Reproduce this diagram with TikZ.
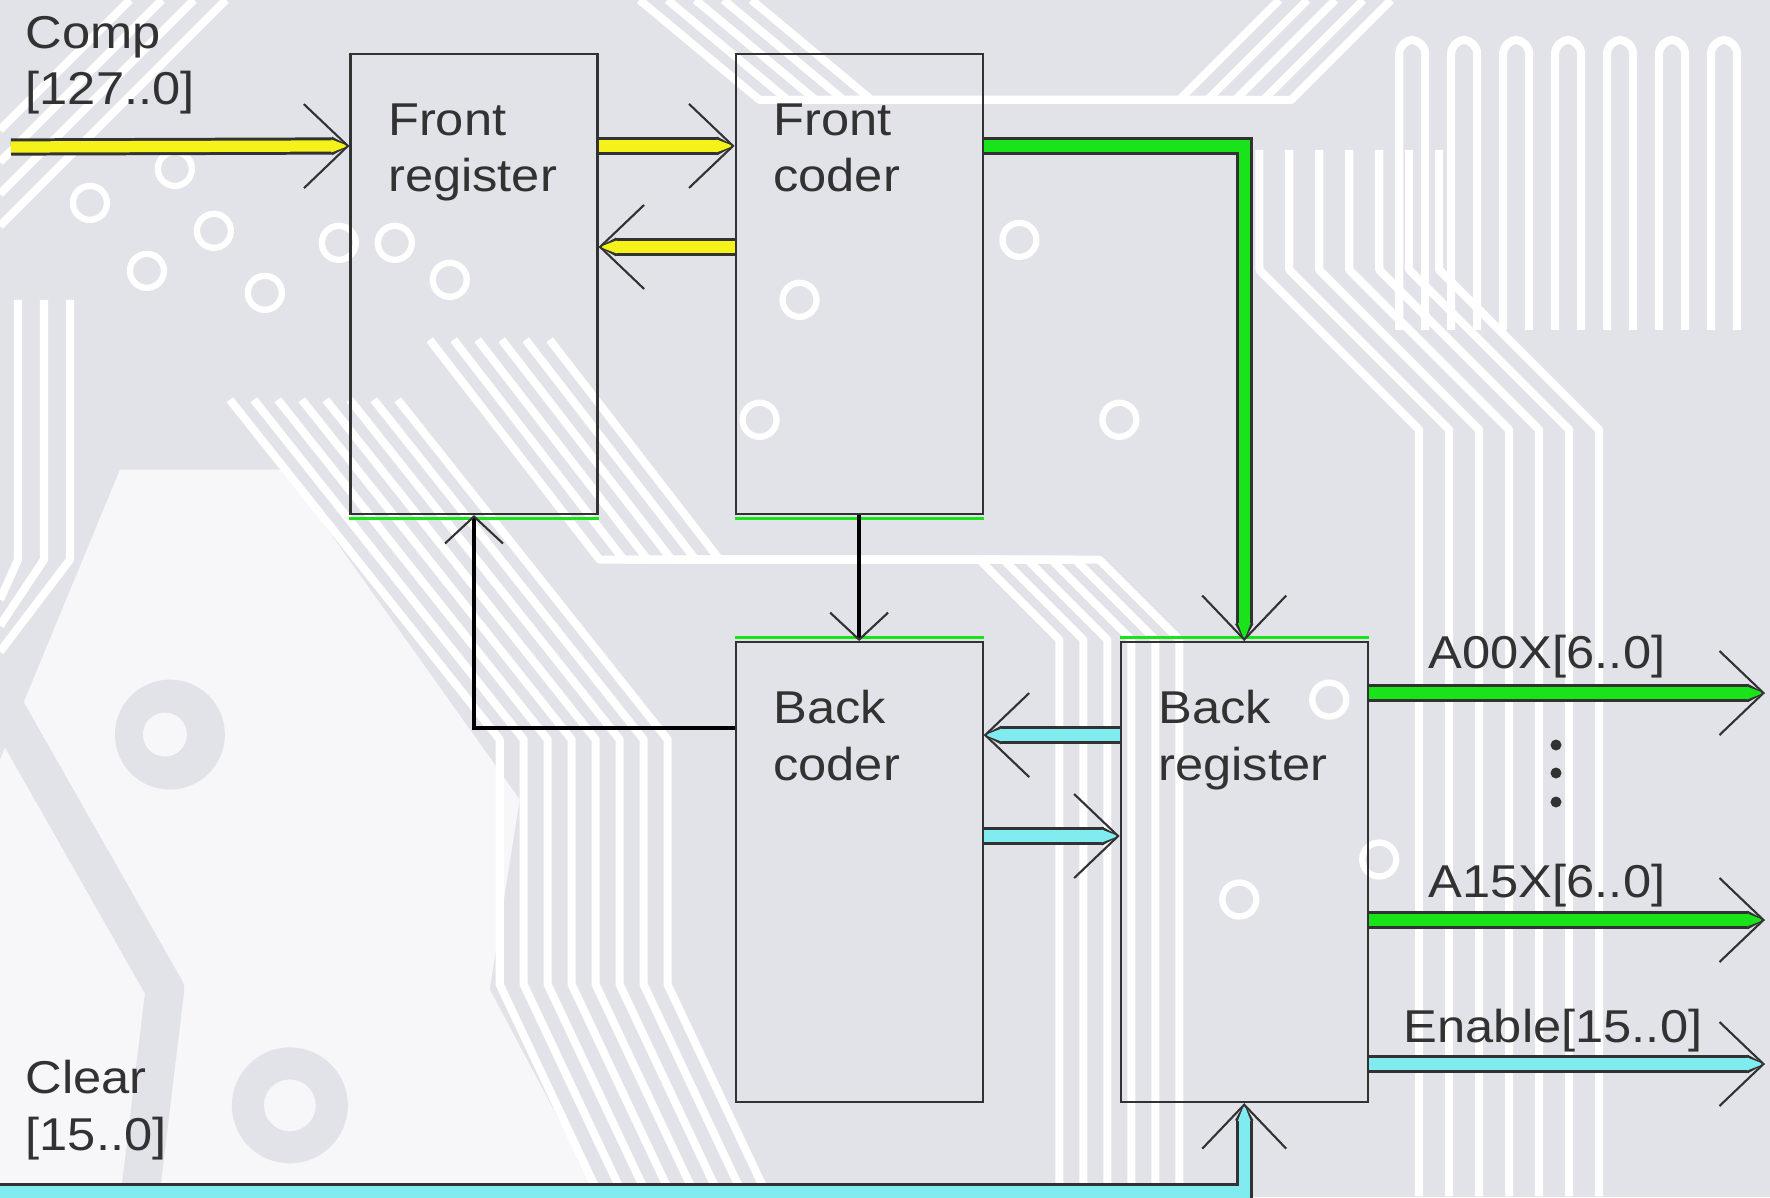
\documentclass[tikz,border=0pt]{standalone}
\usepackage{fontspec}
\setmainfont{Liberation Sans}[FakeStretch=1.1]
\usetikzlibrary{arrows.meta, positioning, calc}

\definecolor{busyellow}{RGB}{245,242,25}
\definecolor{busgreen}{RGB}{25,228,25}
\definecolor{buscyan}{RGB}{128,236,240}
\definecolor{board}{RGB}{226,226,233}
\definecolor{boardlight}{RGB}{247,247,249}
\definecolor{ink}{RGB}{50,50,50}

\tikzset{
  block/.style={
    rectangle, draw=ink, line width=0.6pt,
    minimum width=2.47cm, minimum height=4.6cm, inner sep=0pt
  },
  sigtext/.style={
    inner sep=0pt, align=left, text=ink,
    font=\fontsize{13.1}{16.2}\selectfont
  },
  blocktext/.style={sigtext, anchor=base west},
  bus/.style={
    draw=#1, line width=3.2pt,
    -{Triangle[length=0pt 1.6, width=0pt 1]},
    preaction={draw=ink, line width=4.9pt,
      arrows=-{Triangle[length=0pt 1, width=0pt 1]}},
    postaction={draw=#1, line width=0.3pt,
      arrows=-{Straight Barb[length=4.4mm, width=8.4mm, line width=0.6pt, color=ink]}}
  },
  wire/.style={
    draw=black, line width=1.1pt,
    -{Straight Barb[length=2.7mm, width=5.8mm, line width=0.6pt, color=ink]}
  },
  edgetint/.style={draw=#1, line width=1pt},
  trace/.style={draw=white, line width=2.3pt, line join=round},
  pad/.style={draw=white, line width=1.8pt}
}

\begin{document}
\begin{tikzpicture}
\useasboundingbox (0,0) rectangle (17.70,11.97);

% board background
\fill[board] (0,0) rectangle (17.70,11.97);
\begin{scope}[shift={(0,11.97)}, x=0.01cm, y=-0.01cm]
  % pale field lower left
  \fill[boardlight] (120,470) -- (285,470) -- (520,800) -- (490,990)
    -- (600,1197) -- (0,1197) -- (0,760) -- cycle;
  \draw[board, line width=11pt, line join=round] (0,700) -- (165,990) -- (140,1197);
  \fill[board] (170,735) circle (55);
  \fill[boardlight] (165,735) circle (22);
  \fill[board, even odd rule] (290,1106) circle (58) (290,1106) circle (26);
  % traces
  \foreach \i in {0,...,3}
    \draw[trace] (0,130+32*\i) -- (130+32*\i,0);
  \foreach \i in {0,...,2}
    \draw[trace] (18+26*\i,300) -- (18+26*\i,560) -- (0,600+26*\i);
  \foreach \i in {0,...,7}
    \draw[trace] (230+24*\i,400) -- (500+24*\i,740) -- (500+24*\i,985) -- (600+24*\i,1197);
  \foreach \i in {0,...,5}
    \draw[trace] (430+24*\i,340) -- (600+24*\i,560) -- (980+24*\i,560)
      -- (1060+24*\i,640) -- (1060+24*\i,1197);
  \foreach \i in {0,...,4}
    \draw[trace] (640+28*\i,0) -- (760+28*\i,100) -- (1180+28*\i,100) -- (1280+28*\i,0);
  \foreach \i in {0,...,6}
    \draw[trace] (1420+30*\i,1197) -- (1420+30*\i,430) -- (1260+30*\i,270) -- (1260+30*\i,150);
  \foreach \k in {0,...,6}
    \draw[trace, rounded corners=1.4mm] (1400+52*\k,330) -- (1400+52*\k,40)
      -- (1426+52*\k,40) -- (1426+52*\k,330);
  \foreach \x/\y in {90/203, 175/169, 214/231, 147/271, 265/293, 339/243, 395/243,
      450/280, 800/300, 760/420, 1020/240, 1120/420, 1240/900, 1330/700, 1380/860}
    \draw[pad] (\x,\y) circle (17);
\end{scope}

% blocks
\node[block] (fr) at (4.74,9.13) {};
\node[block, right=1.36cm of fr] (fc) {};
\node[block, below=1.26cm of fc] (bc) {};
\node[block, right=1.36cm of bc] (br) {};

\foreach \n in {fr,fc}
  \draw[edgetint=busgreen] ([yshift=-1pt]\n.south west) -- ([yshift=-1pt]\n.south east);
\foreach \n in {bc,br}
  \draw[edgetint=busgreen] ([yshift=1pt]\n.north west) -- ([yshift=1pt]\n.north east);

% labels sit on the baseline of their second line
\node[blocktext] (frtxt) at ([shift={(0.38,-1.39)}]fr.north west) {Front\\register};
\node[blocktext] (fctxt) at ([shift={(0.38,-1.39)}]fc.north west) {Front\\coder};
\node[blocktext] (bctxt) at ([shift={(0.38,-1.39)}]bc.north west) {Back\\coder};
\node[blocktext] (brtxt) at ([shift={(0.38,-1.39)}]br.north west) {Back\\register};

% inputs
\coordinate (compin) at (0.11,10.50);
\coordinate (clrin) at (0,0.05);
\node[sigtext, anchor=base west] (comp) at (0.25,10.92) {Comp\\{[127..0]}};
\node[sigtext, anchor=base west] (clr) at (0.25,0.47) {Clear\\{[15..0]}};

% buses
\draw[bus=busyellow] (compin) -- ([yshift=-0.93cm]fr.north west);
\draw[bus=busyellow] ([yshift=-0.93cm]fr.north east) -- ([yshift=-0.93cm]fc.north west);
\draw[bus=busyellow] ([yshift=-1.94cm]fc.north west) -- ([yshift=-1.94cm]fr.north east);
\draw[bus=busgreen] ([yshift=-0.93cm]fc.north east) -| (br.north);
\draw[wire] (fc.south) -- (bc.north);
\draw[wire] ([yshift=-0.87cm]bc.north west) -| (fr.south);
\draw[bus=buscyan] ([yshift=-0.94cm]br.north west) -- ([yshift=-0.94cm]bc.north east);
\draw[bus=buscyan] ([yshift=-1.95cm]bc.north east) -- ([yshift=-1.95cm]br.north west);
\draw[bus=buscyan] (clrin) -| (br.south);

% outputs
\coordinate (a00) at (17.65,5.04);
\coordinate (a15) at (17.65,2.77);
\coordinate (ena) at (17.65,1.33);
\draw[bus=busgreen] (br.east |- a00) -- (a00);
\draw[bus=busgreen] (br.east |- a15) -- (a15);
\draw[bus=buscyan] (br.east |- ena) -- (ena);

\node[sigtext, anchor=base] (a00txt) at (15.47,5.29) {A00X[6..0]};
\node[sigtext, anchor=base] (a15txt) at (15.47,3.00) {A15X[6..0]};
\node[sigtext, anchor=base] (enatxt) at (15.53,1.55) {Enable[15..0]};
\foreach \y in {4.52,4.24,3.95}
  \fill[ink] (15.56,\y) circle (0.055);

\end{tikzpicture}
\end{document}
